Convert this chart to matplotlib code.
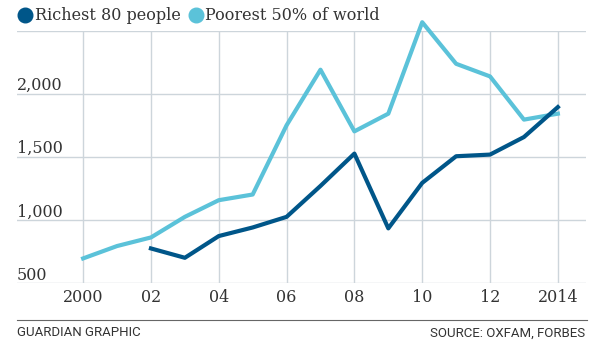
import matplotlib
matplotlib.use('Agg')
import matplotlib.pyplot as plt
from matplotlib.lines import Line2D

# data
years_poor = [2000, 2001, 2002, 2003, 2004, 2005, 2006, 2007, 2008, 2009, 2010, 2011, 2012, 2013, 2014]
poorest = [697, 795, 863, 1026, 1158, 1203, 1751, 2191, 1703, 1843, 2567, 2238, 2138, 1796, 1843]
years_rich = [2002, 2003, 2004, 2005, 2006, 2007, 2008, 2009, 2010, 2011, 2012, 2013, 2014]
richest = [776, 702, 874, 942, 1026, 1271, 1527, 935, 1295, 1506, 1519, 1658, 1895]

x_ticks = [2000, 2002, 2004, 2006, 2008, 2010, 2012, 2014]
x_labels = ['2000', '02', '04', '06', '08', '10', '12', '2014']
y_grid = [500, 1000, 1500, 2000, 2500]
y_labels = ['500', '1,000', '1,500', '2,000']

dark = '#005689'
light = '#5bc2d9'
grid_c = '#cdd5db'
text_c = '#333333'
serif = ['DejaVu Serif']
sans = ['Roboto', 'DejaVu Sans']

fig = plt.figure(figsize=(6, 3.5), dpi=100)
ax = fig.add_axes([17 / 600, 66.7 / 350, (586 - 17) / 600, (283.3 - 30.7) / 350])
ax.set_xlim(1998.05, 2014.83)
ax.set_ylim(500, 2500)
for s in ax.spines.values():
    s.set_visible(False)
ax.set_xticks([])
ax.set_yticks([])

# gridlines
for v in y_grid:
    ax.axhline(v, color=grid_c, lw=1, zorder=1)
for xv in x_ticks:
    ax.axvline(xv, color=grid_c, lw=1, zorder=1)

ax.plot(years_poor, poorest, color=light, lw=3, clip_on=False, zorder=3)
ax.plot(years_rich, richest, color=dark, lw=3, clip_on=False, zorder=4)

# y labels sit just above gridlines
for v, lab in zip(y_grid, y_labels):
    ax.text(0, v + 30, lab, transform=ax.get_yaxis_transform(), ha='left', va='baseline',
            fontsize=11.5, color=text_c, family=serif)

# x labels under the plot
x_lab_y = -(298 - 283.3) / (283.3 - 30.7)
for xv, lab in zip(x_ticks, x_labels):
    ax.text(xv, x_lab_y, lab, transform=ax.get_xaxis_transform(),
            ha='center', va='center', fontsize=11.5, color=text_c, family=serif)

# legend
ly = 1 - 15 / 350
fig.add_artist(Line2D([25 / 600], [ly], marker='o', ms=10.5, color=dark,
                      linestyle='', transform=fig.transFigure))
fig.text(35 / 600, ly, 'Richest 80 people', ha='left', va='center',
         fontsize=11.5, color=text_c, family=serif)
fig.add_artist(Line2D([196 / 600], [ly], marker='o', ms=10.5, color=light,
                      linestyle='', transform=fig.transFigure))
fig.text(205 / 600, ly, 'Poorest 50% of world', ha='left', va='center',
         fontsize=11.5, color=text_c, family=serif)

# footer
fig.add_artist(Line2D([17 / 600, 587 / 600], [1 - 320 / 350] * 2, color='#666666', lw=0.8,
                      transform=fig.transFigure))
fig.text(17 / 600, 1 - 333 / 350, 'GUARDIAN GRAPHIC', ha='left', va='center', fontsize=9.5,
         color=text_c, family=sans)
fig.text(585 / 600, 1 - 333 / 350, 'SOURCE: OXFAM, FORBES', ha='right', va='center',
         fontsize=9.5, color=text_c, family=sans)

fig.savefig('out.png', dpi=100)
